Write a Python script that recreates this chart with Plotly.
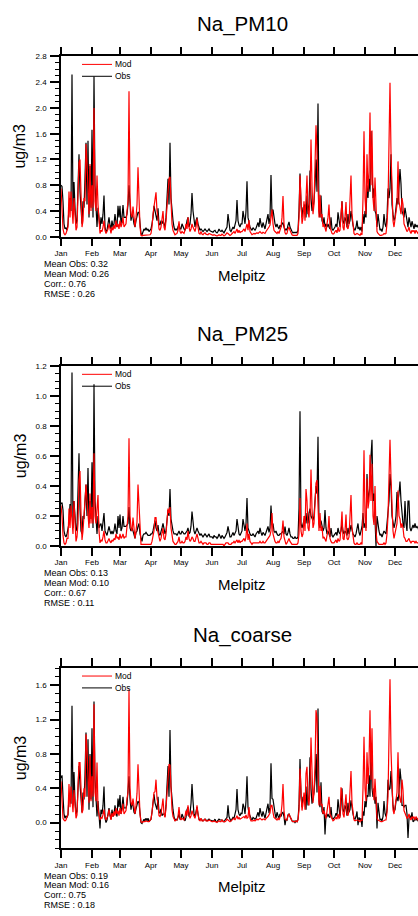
import pandas as pd
import plotly.graph_objects as go

# ---------------------------------------------------------------------------
# Daily sodium concentrations at Melpitz (ug/m3), one list per month
# ---------------------------------------------------------------------------
month_names = ["Jan", "Feb", "Mar", "Apr", "May", "Jun",
               "Jul", "Aug", "Sep", "Oct", "Nov", "Dec"]
month_len = [31, 28, 31, 30, 31, 30, 31, 31, 30, 31, 30, 31]

na_pm10_obs = [
    [0.80, 0.78, 0.55, 0.20, 0.12, 0.14, 0.10, 0.20, 0.45, 0.60, 0.40, 2.52, 0.35, 0.85, 0.45, 0.20, 0.25, 0.90, 1.28, 0.70, 0.30, 0.20, 0.55, 0.45, 0.90, 1.46, 0.50, 1.49, 0.30, 1.10, 0.45],
    [1.66, 0.30, 2.49, 0.80, 0.35, 0.15, 0.45, 0.25, 0.12, 0.30, 0.20, 0.35, 0.64, 0.15, 0.08, 0.10, 0.20, 0.30, 0.18, 0.12, 0.25, 0.15, 0.20, 0.35, 0.22, 0.15, 0.48, 0.30],
    [0.48, 0.20, 0.30, 0.49, 0.30, 0.30, 0.30, 0.35, 0.50, 0.80, 0.40, 0.25, 0.35, 0.30, 0.20, 0.15, 0.25, 0.30, 0.38, 0.38, 0.15, 0.05, 0.03, 0.08, 0.12, 0.10, 0.14, 0.10, 0.12, 0.08, 0.10],
    [0.12, 0.20, 0.30, 0.48, 0.40, 0.30, 0.25, 0.44, 0.20, 0.18, 0.25, 0.20, 0.25, 0.20, 0.15, 0.30, 0.60, 0.90, 0.50, 1.46, 0.60, 0.35, 0.25, 0.15, 0.10, 0.12, 0.10, 0.15, 0.20, 0.12],
    [0.12, 0.20, 0.15, 0.12, 0.10, 0.15, 0.25, 0.30, 0.15, 0.20, 0.35, 0.68, 0.40, 0.20, 0.15, 0.25, 0.30, 0.20, 0.12, 0.10, 0.12, 0.10, 0.08, 0.10, 0.12, 0.10, 0.08, 0.10, 0.12, 0.09, 0.08],
    [0.08, 0.07, 0.09, 0.10, 0.07, 0.06, 0.08, 0.12, 0.09, 0.08, 0.10, 0.08, 0.06, 0.09, 0.12, 0.15, 0.35, 0.15, 0.10, 0.08, 0.12, 0.15, 0.12, 0.18, 0.25, 0.57, 0.25, 0.18, 0.15, 0.20],
    [0.20, 0.40, 0.30, 0.20, 0.40, 0.86, 0.30, 0.20, 0.15, 0.12, 0.10, 0.14, 0.12, 0.10, 0.13, 0.18, 0.22, 0.15, 0.29, 0.20, 0.14, 0.22, 0.16, 0.12, 0.20, 0.28, 0.35, 0.20, 0.30, 0.96, 0.35],
    [0.42, 0.25, 0.20, 0.15, 0.20, 0.15, 0.12, 0.18, 0.15, 0.20, 0.22, 0.15, 0.10, 0.12, 0.10, 0.18, 0.23, 0.15, 0.10, 0.08, 0.06, 0.07, 0.06, 0.07, 0.06, 0.10, 0.40, 0.98, 0.50, 0.30, 0.45],
    [0.45, 0.50, 0.30, 0.64, 0.35, 0.50, 1.03, 0.60, 0.40, 0.45, 0.55, 0.80, 1.20, 0.70, 2.07, 0.40, 0.30, 0.64, 0.25, 0.20, 0.30, 0.15, 0.20, 0.15, 0.20, 0.15, 0.12, 0.30, 0.12, 0.10],
    [0.12, 0.15, 0.20, 0.15, 0.38, 0.20, 0.15, 0.30, 0.55, 0.25, 0.20, 0.30, 0.25, 0.15, 0.35, 0.20, 0.25, 0.40, 0.25, 0.18, 0.12, 0.10, 0.15, 0.25, 0.12, 0.15, 0.10, 0.15, 0.08, 0.35, 0.20],
    [0.40, 0.30, 0.80, 0.60, 0.90, 0.70, 1.64, 1.10, 0.60, 0.75, 0.40, 0.35, 0.15, 0.35, 0.20, 0.10, 0.12, 0.08, 0.15, 0.35, 0.20, 0.15, 0.30, 0.75, 0.60, 0.75, 1.28, 0.50, 0.35, 0.25],
    [0.30, 0.45, 0.60, 0.50, 0.70, 1.05, 0.82, 0.40, 0.35, 0.30, 0.45, 0.35, 0.20, 0.15, 0.30, 0.20, 0.15, 0.24, 0.15, 0.12, 0.20, 0.15, 0.18, 0.14, 0.12, 0.15, 0.18, 0.12, 0.10, 0.14, 0.16],
]

na_pm10_mod = [
    [0.75, 0.35, 0.12, 0.05, 0.03, 0.05, 0.12, 0.15, 0.70, 0.30, 0.70, 0.45, 0.20, 0.60, 0.25, 0.10, 0.15, 0.55, 1.15, 1.20, 0.60, 0.15, 0.25, 0.60, 0.55, 1.44, 1.15, 0.70, 0.35, 1.13, 0.40],
    [0.80, 0.45, 2.00, 0.55, 0.40, 0.95, 0.50, 0.20, 0.05, 0.10, 0.08, 0.15, 0.25, 0.10, 0.05, 0.08, 0.12, 0.20, 0.12, 0.05, 0.15, 0.10, 0.18, 0.12, 0.25, 0.15, 0.20, 0.12],
    [0.25, 0.15, 0.20, 0.30, 0.15, 0.18, 0.20, 0.40, 0.55, 2.26, 0.60, 0.35, 0.30, 0.47, 0.25, 0.15, 0.30, 0.50, 1.08, 0.60, 0.15, 0.02, 0.01, 0.02, 0.02, 0.02, 0.03, 0.02, 0.02, 0.02, 0.03],
    [0.05, 0.15, 0.35, 0.45, 0.55, 0.69, 0.40, 0.30, 0.12, 0.10, 0.15, 0.25, 0.40, 0.15, 0.10, 0.25, 0.50, 0.80, 0.90, 0.93, 0.40, 0.20, 0.10, 0.05, 0.03, 0.04, 0.05, 0.10, 0.24, 0.08],
    [0.05, 0.08, 0.06, 0.05, 0.10, 0.20, 0.12, 0.30, 0.15, 0.08, 0.12, 0.20, 0.15, 0.10, 0.08, 0.15, 0.28, 0.15, 0.05, 0.04, 0.08, 0.04, 0.03, 0.05, 0.06, 0.04, 0.03, 0.03, 0.05, 0.04, 0.03],
    [0.02, 0.02, 0.03, 0.02, 0.02, 0.01, 0.02, 0.03, 0.02, 0.02, 0.04, 0.02, 0.01, 0.02, 0.04, 0.06, 0.05, 0.03, 0.02, 0.03, 0.05, 0.06, 0.08, 0.05, 0.08, 0.12, 0.06, 0.10, 0.06, 0.08],
    [0.08, 0.10, 0.12, 0.08, 0.15, 0.20, 0.10, 0.26, 0.08, 0.04, 0.03, 0.04, 0.05, 0.04, 0.05, 0.06, 0.05, 0.06, 0.08, 0.06, 0.05, 0.07, 0.06, 0.05, 0.08, 0.10, 0.12, 0.15, 0.18, 0.30, 0.42],
    [0.20, 0.10, 0.08, 0.06, 0.05, 0.08, 0.05, 0.10, 0.15, 0.30, 0.63, 0.20, 0.06, 0.04, 0.05, 0.12, 0.15, 0.10, 0.05, 0.03, 0.02, 0.02, 0.02, 0.03, 0.02, 0.05, 0.30, 0.95, 0.35, 0.20, 0.30],
    [0.55, 0.25, 0.55, 0.95, 0.40, 0.30, 0.60, 1.51, 0.80, 0.35, 0.50, 1.00, 1.73, 1.34, 0.90, 0.30, 0.65, 0.30, 0.35, 0.15, 0.20, 0.12, 0.08, 0.20, 0.30, 0.50, 0.15, 0.10, 0.05, 0.04],
    [0.05, 0.08, 0.10, 0.06, 0.15, 0.08, 0.10, 0.35, 0.55, 0.15, 0.10, 0.30, 0.54, 0.15, 0.12, 0.20, 0.60, 0.95, 0.35, 0.12, 0.05, 0.03, 0.04, 0.05, 0.04, 0.03, 0.02, 0.05, 0.03, 0.60, 1.64],
    [0.60, 0.35, 1.28, 0.70, 1.00, 1.93, 0.80, 1.65, 0.60, 0.40, 0.92, 0.30, 0.08, 0.05, 0.03, 0.02, 0.02, 0.02, 0.03, 0.05, 0.04, 0.05, 0.20, 0.50, 1.20, 2.39, 1.31, 0.50, 0.25, 0.15],
    [0.25, 0.40, 0.50, 1.17, 0.55, 0.45, 0.35, 0.60, 0.50, 0.20, 0.15, 0.10, 0.08, 0.10, 0.15, 0.08, 0.05, 0.10, 0.08, 0.10, 0.05, 0.10, 0.06, 0.05, 0.04, 0.05, 0.06, 0.05, 0.04, 0.05, 0.06],
]

na_pm25_obs = [
    [0.28, 0.29, 0.24, 0.10, 0.07, 0.06, 0.08, 0.12, 0.15, 0.28, 0.20, 1.16, 0.12, 0.30, 0.20, 0.10, 0.12, 0.35, 0.62, 0.25, 0.10, 0.08, 0.20, 0.18, 0.35, 0.41, 0.20, 0.52, 0.15, 0.30, 0.18],
    [0.56, 0.12, 1.08, 0.30, 0.15, 0.08, 0.20, 0.12, 0.14, 0.15, 0.10, 0.15, 0.22, 0.10, 0.08, 0.07, 0.10, 0.13, 0.10, 0.08, 0.10, 0.08, 0.10, 0.15, 0.10, 0.08, 0.20, 0.12],
    [0.21, 0.10, 0.12, 0.20, 0.13, 0.13, 0.13, 0.14, 0.15, 0.26, 0.12, 0.10, 0.12, 0.10, 0.08, 0.05, 0.09, 0.10, 0.13, 0.15, 0.08, 0.05, 0.03, 0.07, 0.08, 0.08, 0.09, 0.08, 0.07, 0.07, 0.07],
    [0.08, 0.08, 0.10, 0.15, 0.17, 0.12, 0.10, 0.14, 0.08, 0.07, 0.09, 0.12, 0.15, 0.10, 0.08, 0.10, 0.18, 0.24, 0.20, 0.38, 0.18, 0.12, 0.10, 0.08, 0.08, 0.08, 0.07, 0.09, 0.10, 0.08],
    [0.08, 0.10, 0.09, 0.08, 0.08, 0.09, 0.10, 0.12, 0.08, 0.09, 0.13, 0.23, 0.15, 0.10, 0.08, 0.10, 0.12, 0.10, 0.08, 0.07, 0.08, 0.07, 0.06, 0.07, 0.08, 0.07, 0.06, 0.07, 0.08, 0.06, 0.06],
    [0.06, 0.05, 0.07, 0.06, 0.06, 0.05, 0.06, 0.08, 0.06, 0.05, 0.07, 0.06, 0.05, 0.06, 0.08, 0.09, 0.13, 0.08, 0.06, 0.06, 0.08, 0.09, 0.07, 0.09, 0.10, 0.18, 0.10, 0.08, 0.07, 0.09],
    [0.10, 0.18, 0.12, 0.10, 0.15, 0.32, 0.12, 0.09, 0.08, 0.07, 0.07, 0.08, 0.07, 0.06, 0.08, 0.09, 0.10, 0.08, 0.12, 0.09, 0.07, 0.09, 0.08, 0.07, 0.09, 0.11, 0.13, 0.09, 0.12, 0.27, 0.14],
    [0.15, 0.10, 0.09, 0.10, 0.08, 0.07, 0.07, 0.08, 0.08, 0.09, 0.10, 0.08, 0.13, 0.08, 0.07, 0.09, 0.12, 0.08, 0.06, 0.06, 0.05, 0.05, 0.06, 0.05, 0.05, 0.06, 0.25, 0.90, 0.15, 0.12, 0.14],
    [0.17, 0.20, 0.15, 0.22, 0.15, 0.22, 0.25, 0.20, 0.18, 0.17, 0.20, 0.30, 0.40, 0.35, 0.73, 0.15, 0.12, 0.17, 0.12, 0.10, 0.12, 0.24, 0.12, 0.08, 0.10, 0.08, 0.06, 0.12, 0.07, 0.06],
    [0.07, 0.08, 0.09, 0.07, 0.12, 0.09, 0.08, 0.10, 0.15, 0.10, 0.08, 0.10, 0.09, 0.07, 0.12, 0.08, 0.10, 0.14, 0.10, 0.08, 0.07, 0.06, 0.08, 0.12, 0.15, 0.09, 0.07, 0.10, 0.13, 0.22, 0.12],
    [0.15, 0.12, 0.48, 0.30, 0.35, 0.40, 0.60, 0.71, 0.30, 0.35, 0.18, 0.00, 0.20, 0.12, 0.10, 0.07, 0.08, 0.06, 0.08, 0.10, 0.09, 0.08, 0.15, 0.25, 0.30, 0.48, 0.40, 0.20, 0.15, 0.12],
    [0.15, 0.20, 0.36, 0.30, 0.35, 0.43, 0.30, 0.20, 0.15, 0.12, 0.30, 0.15, 0.10, 0.30, 0.30, 0.12, 0.10, 0.12, 0.14, 0.12, 0.15, 0.12, 0.13, 0.12, 0.10, 0.11, 0.12, 0.09, 0.08, 0.10, 0.11],
]

na_pm25_mod = [
    [0.27, 0.20, 0.07, 0.02, 0.01, 0.02, 0.05, 0.05, 0.25, 0.12, 0.27, 0.15, 0.08, 0.30, 0.12, 0.03, 0.06, 0.15, 0.44, 0.50, 0.22, 0.04, 0.10, 0.20, 0.25, 0.41, 0.30, 0.22, 0.12, 0.35, 0.15],
    [0.26, 0.15, 0.62, 0.20, 0.15, 0.25, 0.34, 0.10, 0.02, 0.04, 0.03, 0.06, 0.10, 0.04, 0.02, 0.02, 0.04, 0.05, 0.03, 0.02, 0.04, 0.03, 0.05, 0.04, 0.08, 0.05, 0.06, 0.04],
    [0.08, 0.05, 0.06, 0.08, 0.05, 0.06, 0.06, 0.12, 0.20, 0.72, 0.20, 0.12, 0.10, 0.19, 0.08, 0.05, 0.10, 0.16, 0.41, 0.25, 0.05, 0.01, 0.01, 0.01, 0.01, 0.01, 0.01, 0.01, 0.01, 0.01, 0.01],
    [0.01, 0.03, 0.08, 0.10, 0.19, 0.19, 0.12, 0.08, 0.04, 0.03, 0.05, 0.08, 0.12, 0.05, 0.04, 0.08, 0.15, 0.25, 0.22, 0.26, 0.12, 0.05, 0.03, 0.02, 0.01, 0.01, 0.02, 0.03, 0.06, 0.02],
    [0.02, 0.03, 0.02, 0.02, 0.03, 0.06, 0.04, 0.10, 0.05, 0.03, 0.04, 0.06, 0.05, 0.03, 0.03, 0.05, 0.08, 0.05, 0.02, 0.02, 0.03, 0.02, 0.01, 0.02, 0.02, 0.02, 0.01, 0.01, 0.02, 0.02, 0.01],
    [0.01, 0.01, 0.01, 0.01, 0.01, 0.01, 0.01, 0.01, 0.01, 0.01, 0.01, 0.01, 0.00, 0.01, 0.02, 0.02, 0.02, 0.01, 0.01, 0.01, 0.02, 0.02, 0.03, 0.02, 0.03, 0.04, 0.02, 0.04, 0.02, 0.03],
    [0.03, 0.04, 0.05, 0.03, 0.06, 0.15, 0.04, 0.08, 0.03, 0.02, 0.01, 0.02, 0.02, 0.02, 0.02, 0.02, 0.02, 0.02, 0.03, 0.02, 0.02, 0.03, 0.02, 0.02, 0.03, 0.04, 0.05, 0.06, 0.07, 0.10, 0.22],
    [0.08, 0.04, 0.03, 0.02, 0.02, 0.03, 0.02, 0.04, 0.05, 0.09, 0.17, 0.06, 0.02, 0.01, 0.02, 0.04, 0.05, 0.03, 0.02, 0.01, 0.01, 0.01, 0.01, 0.01, 0.01, 0.02, 0.08, 0.32, 0.10, 0.06, 0.08],
    [0.20, 0.10, 0.38, 0.30, 0.12, 0.10, 0.20, 0.51, 0.25, 0.12, 0.15, 0.35, 0.42, 0.44, 0.30, 0.10, 0.22, 0.10, 0.13, 0.05, 0.06, 0.04, 0.03, 0.07, 0.10, 0.20, 0.05, 0.03, 0.02, 0.02],
    [0.02, 0.03, 0.04, 0.02, 0.05, 0.03, 0.04, 0.12, 0.23, 0.05, 0.04, 0.10, 0.21, 0.05, 0.04, 0.06, 0.20, 0.34, 0.12, 0.04, 0.02, 0.01, 0.01, 0.02, 0.01, 0.01, 0.01, 0.02, 0.01, 0.20, 0.64],
    [0.20, 0.10, 0.45, 0.25, 0.30, 0.61, 0.30, 0.55, 0.20, 0.14, 0.40, 0.10, 0.03, 0.02, 0.01, 0.01, 0.01, 0.01, 0.01, 0.02, 0.01, 0.02, 0.08, 0.20, 0.48, 0.71, 0.45, 0.20, 0.10, 0.05],
    [0.08, 0.12, 0.15, 0.37, 0.20, 0.18, 0.12, 0.15, 0.12, 0.06, 0.05, 0.03, 0.03, 0.04, 0.05, 0.03, 0.02, 0.03, 0.03, 0.03, 0.02, 0.03, 0.02, 0.02, 0.02, 0.02, 0.02, 0.02, 0.01, 0.02, 0.02],
]

na_coarse_obs = [
    [0.52, 0.55, 0.31, 0.10, 0.05, 0.08, 0.06, 0.09, 0.30, 0.32, 0.22, 1.36, 0.20, 0.59, 0.25, 0.10, 0.13, 0.55, 0.66, 0.45, 0.20, 0.12, 0.35, 0.27, 0.55, 1.05, 0.30, 0.97, 0.15, 0.80, 0.27],
    [1.10, 0.18, 1.41, 0.50, 0.20, 0.07, 0.25, 0.13, -0.07, 0.15, 0.10, 0.20, 0.42, 0.05, 0.00, 0.03, 0.10, 0.17, 0.08, 0.04, 0.15, 0.07, 0.10, 0.20, 0.12, 0.07, 0.28, 0.18],
    [0.32, 0.10, 0.18, 0.30, 0.17, 0.17, 0.17, 0.21, 0.35, 0.54, 0.28, 0.15, 0.23, 0.20, 0.12, 0.10, 0.16, 0.20, 0.25, 0.23, 0.07, 0.00, -0.01, 0.01, 0.04, 0.02, 0.05, 0.02, 0.05, 0.01, 0.03],
    [0.04, 0.12, 0.20, 0.33, 0.23, 0.18, 0.15, 0.30, 0.12, 0.11, 0.16, 0.08, 0.10, 0.10, 0.07, 0.20, 0.42, 0.66, 0.30, 1.08, 0.42, 0.23, 0.15, 0.07, 0.02, 0.04, 0.03, 0.06, 0.10, 0.04],
    [0.04, 0.10, 0.06, 0.04, 0.02, 0.06, 0.15, 0.18, 0.07, 0.11, 0.22, 0.45, 0.25, 0.10, 0.07, 0.15, 0.18, 0.10, 0.04, 0.03, 0.04, 0.03, 0.02, 0.03, 0.04, 0.03, 0.02, 0.03, 0.04, 0.03, 0.02],
    [0.02, 0.02, 0.02, 0.04, 0.01, 0.01, 0.02, 0.04, 0.03, 0.03, 0.03, 0.02, 0.01, 0.03, 0.04, 0.06, 0.20, 0.07, 0.04, 0.02, 0.04, 0.06, 0.05, 0.09, 0.15, 0.39, 0.15, 0.10, 0.08, 0.11],
    [0.10, 0.22, 0.18, 0.10, 0.25, 0.54, 0.18, 0.11, 0.07, 0.05, 0.03, 0.06, 0.05, 0.04, 0.05, 0.09, 0.12, 0.07, 0.17, 0.11, 0.07, 0.13, 0.08, 0.05, 0.11, 0.17, 0.22, 0.11, 0.18, 0.69, 0.28],
    [0.27, 0.15, 0.11, 0.05, 0.12, 0.08, 0.05, 0.10, 0.07, 0.11, 0.12, 0.07, -0.03, 0.04, 0.03, 0.09, 0.10, 0.07, 0.04, 0.02, 0.01, 0.02, 0.00, 0.02, 0.01, 0.04, 0.20, 0.74, 0.30, 0.18, 0.30],
    [0.28, 0.30, 0.15, 0.42, 0.20, 0.28, 0.76, 0.40, 0.22, 0.28, 0.35, 0.50, 0.80, 0.35, 1.33, 0.25, 0.18, 0.47, 0.13, 0.10, 0.18, -0.14, 0.08, 0.07, 0.10, 0.07, 0.06, 0.18, 0.05, 0.04],
    [0.05, 0.07, 0.11, 0.08, 0.27, 0.11, 0.07, 0.20, 0.40, 0.15, 0.12, 0.20, 0.16, 0.08, 0.23, 0.12, 0.15, 0.26, 0.15, 0.10, 0.05, 0.04, 0.07, 0.13, -0.03, 0.06, 0.03, 0.05, -0.05, 0.13, 0.08],
    [0.25, 0.18, 0.32, 0.30, 0.55, 0.30, 0.93, 0.40, 0.30, 0.40, 0.22, 0.30, -0.07, 0.23, 0.10, 0.03, 0.04, 0.02, 0.07, 0.25, 0.11, 0.07, 0.15, 0.50, 0.38, 0.40, 0.60, 0.30, 0.20, 0.13],
    [0.15, 0.25, 0.30, 0.25, 0.35, 0.63, 0.50, 0.20, 0.20, 0.18, 0.20, 0.20, 0.10, -0.18, 0.05, 0.08, 0.05, 0.12, 0.01, 0.02, 0.05, 0.03, 0.05, 0.02, 0.02, 0.04, 0.06, 0.03, 0.02, 0.04, 0.05],
]

na_coarse_mod = [
    [0.48, 0.20, 0.05, 0.03, 0.02, 0.03, 0.07, 0.10, 0.45, 0.18, 0.42, 0.30, 0.12, 0.38, 0.13, 0.05, 0.09, 0.40, 0.70, 0.70, 0.38, 0.11, 0.15, 0.40, 0.30, 1.03, 0.85, 0.48, 0.23, 0.78, 0.25],
    [0.54, 0.30, 1.38, 0.35, 0.25, 0.70, 0.16, 0.10, 0.03, 0.06, 0.05, 0.09, 0.15, 0.06, 0.03, 0.06, 0.08, 0.15, 0.09, 0.03, 0.11, 0.07, 0.13, 0.08, 0.17, 0.10, 0.14, 0.08],
    [0.17, 0.10, 0.14, 0.22, 0.10, 0.12, 0.14, 0.28, 0.35, 1.55, 0.40, 0.23, 0.20, 0.28, 0.17, 0.10, 0.20, 0.34, 0.68, 0.35, 0.10, 0.01, 0.00, 0.01, 0.01, 0.01, 0.02, 0.01, 0.01, 0.01, 0.02],
    [0.04, 0.12, 0.27, 0.35, 0.36, 0.50, 0.28, 0.22, 0.08, 0.07, 0.10, 0.17, 0.28, 0.10, 0.06, 0.17, 0.35, 0.55, 0.68, 0.67, 0.28, 0.15, 0.07, 0.03, 0.02, 0.03, 0.03, 0.07, 0.18, 0.06],
    [0.03, 0.05, 0.04, 0.03, 0.07, 0.14, 0.08, 0.20, 0.10, 0.05, 0.08, 0.14, 0.10, 0.07, 0.05, 0.10, 0.20, 0.10, 0.03, 0.02, 0.05, 0.02, 0.02, 0.03, 0.04, 0.02, 0.02, 0.02, 0.03, 0.02, 0.02],
    [0.01, 0.01, 0.02, 0.01, 0.01, 0.00, 0.01, 0.02, 0.01, 0.01, 0.03, 0.01, 0.01, 0.01, 0.02, 0.04, 0.03, 0.02, 0.01, 0.02, 0.03, 0.04, 0.05, 0.03, 0.05, 0.08, 0.04, 0.06, 0.04, 0.05],
    [0.05, 0.06, 0.07, 0.05, 0.09, 0.05, 0.06, 0.18, 0.05, 0.02, 0.02, 0.02, 0.03, 0.02, 0.03, 0.04, 0.03, 0.04, 0.05, 0.04, 0.03, 0.04, 0.04, 0.03, 0.05, 0.06, 0.07, 0.09, 0.11, 0.20, 0.20],
    [0.12, 0.06, 0.05, 0.04, 0.03, 0.05, 0.03, 0.06, 0.10, 0.21, 0.45, 0.14, 0.04, 0.03, 0.03, 0.08, 0.10, 0.07, 0.03, 0.02, 0.01, 0.01, 0.01, 0.02, 0.01, 0.03, 0.15, 0.63, 0.25, 0.14, 0.22],
    [0.35, 0.15, 0.57, 0.65, 0.28, 0.20, 0.40, 0.99, 0.55, 0.23, 0.35, 0.65, 1.31, 1.22, 0.60, 0.20, 0.43, 0.20, 0.22, 0.10, 0.14, 0.08, 0.05, 0.13, 0.20, 0.30, 0.10, 0.07, 0.03, 0.02],
    [0.03, 0.05, 0.06, 0.04, 0.10, 0.05, 0.06, 0.41, 0.35, 0.10, 0.06, 0.20, 0.33, 0.10, 0.08, 0.14, 0.40, 0.60, 0.23, 0.08, 0.03, 0.02, 0.03, 0.03, 0.03, 0.02, 0.01, 0.03, 0.02, 0.40, 1.00],
    [0.40, 0.25, 0.82, 0.45, 0.70, 1.31, 0.50, 1.10, 0.40, 0.26, 0.51, 0.20, 0.05, 0.03, 0.02, 0.01, 0.01, 0.01, 0.02, 0.03, 0.03, 0.03, 0.12, 0.30, 0.80, 1.67, 0.84, 0.30, 0.15, 0.10],
    [0.17, 0.28, 0.35, 0.82, 0.35, 0.27, 0.23, 0.50, 0.38, 0.14, 0.10, 0.07, 0.05, 0.06, 0.10, 0.05, 0.03, 0.07, 0.05, 0.07, 0.03, 0.07, 0.04, 0.03, 0.02, 0.03, 0.04, 0.03, 0.03, 0.03, 0.04],
]

panel_titles = ["Na_PM10", "Na_PM25", "Na_coarse"]
station_name = "Melpitz"
unit_label = "ug/m3"
stat_names = ["Mean Obs", "Mean Mod", "Corr.", "RMSE "]
stat_values = [
    ["0.32", "0.26", "0.76", "0.26"],
    ["0.13", "0.10", "0.67", "0.11"],
    ["0.19", "0.16", "0.75", "0.18"],
]


def flatten(months, name):
    for i, (m, n) in enumerate(zip(months, month_len)):
        if len(m) != n:
            raise ValueError(f"{name}: month {i + 1} has {len(m)} values, expected {n}")
    return [v for m in months for v in m]


days = pd.date_range("2019-01-01", periods=365, freq="D")
series = [
    (flatten(na_pm10_obs, "pm10 obs"), flatten(na_pm10_mod, "pm10 mod")),
    (flatten(na_pm25_obs, "pm25 obs"), flatten(na_pm25_mod, "pm25 mod")),
    (flatten(na_coarse_obs, "coarse obs"), flatten(na_coarse_mod, "coarse mod")),
]

# ---------------------------------------------------------------------------
# Layout geometry (pixels in a 418 x 916 page)
# ---------------------------------------------------------------------------
W, H = 418, 916
PLOT_LEFT = 61
PLOT_W = W - PLOT_LEFT
panel_top = [53, 366, 670.7]
panel_bottom = [235, 547.3, 852.7]
y_ranges = [[0, 2.8], [0, 1.2], [-0.3, 1.8]]
y_major = [0.4, 0.2, 0.4]
y_minor = [0.1, 0.05, 0.1]

FONT = "Liberation Sans, Arial, Helvetica, sans-serif"
RED = "#ff0000"
BLACK = "#000000"
LINE_W = 1.2


def py(px):
    """page pixel row -> paper y (no top/bottom margin)"""
    return 1 - px / H


def px_x(px):
    """page pixel column -> paper x (paper starts at the left margin)"""
    return (px - PLOT_LEFT) / PLOT_W


fig = go.Figure()
annotations = []
shapes = []

for i in range(3):
    n = i + 1
    xa = "x" if n == 1 else f"x{n}"
    ya = "y" if n == 1 else f"y{n}"
    obs, mod = series[i]
    fig.add_trace(go.Scatter(x=days, y=obs, mode="lines", name="Obs",
                             line=dict(color=BLACK, width=LINE_W), xaxis=xa, yaxis=ya,
                             showlegend=False))
    fig.add_trace(go.Scatter(x=days, y=mod, mode="lines", name="Mod",
                             line=dict(color=RED, width=LINE_W), xaxis=xa, yaxis=ya,
                             showlegend=False))

    top, bot = panel_top[i], panel_bottom[i]
    axis_font = dict(family=FONT, size=8, color=BLACK)
    fig.layout[f"xaxis{'' if n == 1 else n}"] = dict(
        type="date", domain=[0, 1], anchor=ya,
        range=["2019-01-01", "2019-12-24"],
        tick0="2019-01-01", dtick="M1", tickformat="%b",
        ticks="outside", ticklen=8, tickwidth=1.5, tickcolor=BLACK,
        showline=True, linewidth=1.5, linecolor=BLACK, mirror="ticks",
        showgrid=False, zeroline=False, tickfont=axis_font,
    )
    fig.layout[f"yaxis{'' if n == 1 else n}"] = dict(
        domain=[py(bot), py(top)], anchor=xa,
        range=y_ranges[i], tick0=0, dtick=y_major[i], tickformat=".1f",
        ticks="outside", ticklen=9, tickwidth=1.5, tickcolor=BLACK,
        ticklabelstandoff=2,
        minor=dict(dtick=y_minor[i], tick0=0, ticks="outside", ticklen=4.5,
                   tickwidth=1, tickcolor=BLACK, showgrid=False),
        showline=True, linewidth=1.5, linecolor=BLACK,
        showgrid=False, zeroline=False, tickfont=axis_font,
    )

    # panel title, station name, unit
    annotations.append(dict(text=panel_titles[i], x=px_x(242), y=py(top - 33),
                            xref="paper", yref="paper", showarrow=False,
                            xanchor="center", yanchor="middle",
                            font=dict(family=FONT, size=20.5, color=BLACK)))
    annotations.append(dict(text=station_name, x=px_x(242), y=py(bot + 39),
                            xref="paper", yref="paper", showarrow=False,
                            xanchor="center", yanchor="middle",
                            font=dict(family=FONT, size=15, color=BLACK)))
    annotations.append(dict(text=unit_label, x=px_x(20), y=py((top + bot) / 2),
                            xref="paper", yref="paper", showarrow=False,
                            textangle=-90, xanchor="center", yanchor="middle",
                            font=dict(family=FONT, size=16, color=BLACK)))
    # statistics block
    for k, (nm, val) in enumerate(zip(stat_names, stat_values[i])):
        annotations.append(dict(text=f"{nm}: {val}", x=px_x(42), y=py(bot + 27.5 + 10 * k),
                                xref="paper", yref="paper", showarrow=False,
                                xanchor="left", yanchor="middle",
                                font=dict(family=FONT, size=9, color=BLACK)))
    # in-panel legend
    h = bot - top
    for k, (label, col) in enumerate([("Mod", RED), ("Obs", BLACK)]):
        yy = 1 - (8 + 12 * k) / h
        shapes.append(dict(type="line", xref=f"{xa} domain", yref=f"{ya} domain",
                           x0=21 / PLOT_W, x1=51 / PLOT_W, y0=yy, y1=yy,
                           line=dict(color=col, width=1)))
        annotations.append(dict(text=label, x=52 / PLOT_W, y=yy,
                                xref=f"{xa} domain", yref=f"{ya} domain",
                                showarrow=False, xanchor="left", yanchor="middle",
                                font=dict(family=FONT, size=8.5, color=BLACK)))

fig.update_layout(
    width=W, height=H,
    margin=dict(l=PLOT_LEFT, r=0, t=0, b=0, pad=0),
    paper_bgcolor="white", plot_bgcolor="white",
    showlegend=False,
    annotations=annotations, shapes=shapes,
)

fig.write_html("out.html")
